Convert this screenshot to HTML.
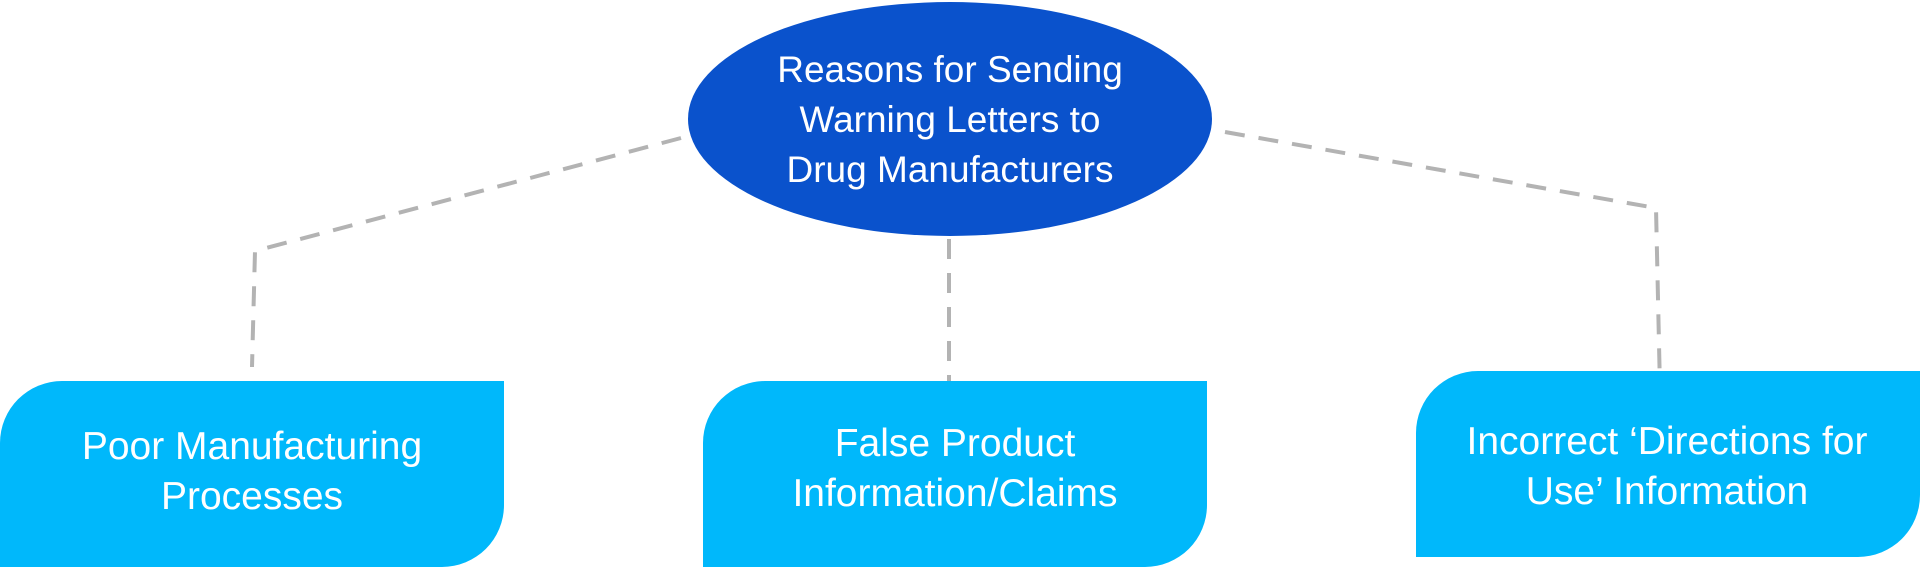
<!DOCTYPE html>
<html><head><meta charset="utf-8"><style>
html,body{margin:0;padding:0;background:#fff;}
svg{display:block;}
text{font-family:"Liberation Sans",sans-serif;fill:#fff;}
</style></head><body>
<svg width="1920" height="568" viewBox="0 0 1920 568">
<g fill="none" stroke="#b3b3b3" stroke-width="4" stroke-dasharray="20,14">
<polyline points="681,138 255,251 252,367"/>
<line x1="949" y1="239" x2="949" y2="381"/>
<polyline points="1225,132 1656,208 1660,389"/>
</g>
<ellipse cx="950" cy="119" rx="262" ry="117" fill="#0a52cc"/>
<g font-size="37" text-anchor="middle">
<text x="950" y="82">Reasons for Sending</text>
<text x="950" y="132">Warning Letters to</text>
<text x="950" y="182">Drug Manufacturers</text>
</g>
<path d="M62,381 H504 V505 A62,62 0 0 1 442,567 H0 V443 A62,62 0 0 1 62,381 Z" fill="#00b8fb"/>
<path d="M765,381 H1207 V505 A62,62 0 0 1 1145,567 H703 V443 A62,62 0 0 1 765,381 Z" fill="#00b8fb"/>
<path d="M1478,371 H1920 V495 A62,62 0 0 1 1858,557 H1416 V433 A62,62 0 0 1 1478,371 Z" fill="#00b8fb"/>
<g font-size="39" text-anchor="middle">
<text x="252" y="459">Poor Manufacturing</text>
<text x="252" y="509">Processes</text>
<text x="955" y="456">False Product</text>
<text x="955" y="506">Information/Claims</text>
<text x="1667" y="454">Incorrect ‘Directions for</text>
<text x="1667" y="504">Use’ Information</text>
</g>
</svg>
</body></html>
